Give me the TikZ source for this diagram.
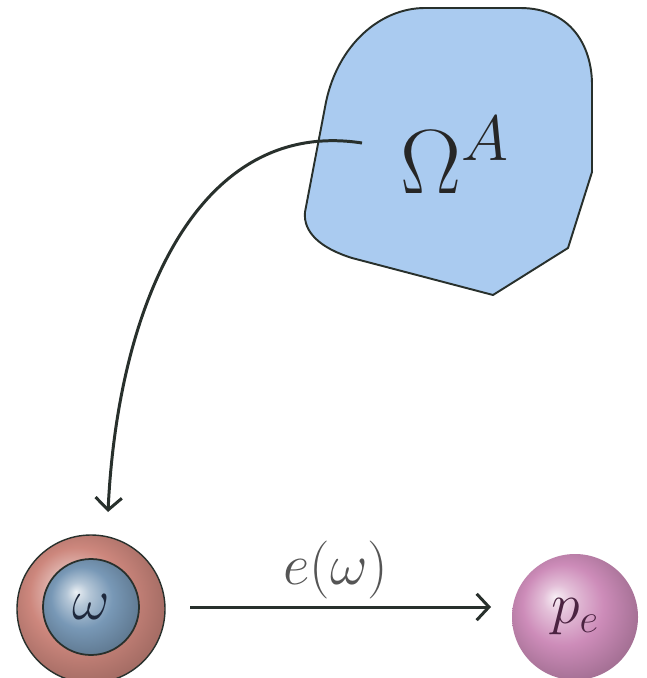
\documentclass[tikz,border=0pt]{standalone}
\usepackage{fix-cm}
\usetikzlibrary{arrows.meta}
\definecolor{blobfill}{RGB}{170,203,240}
\definecolor{linec}{RGB}{40,48,44}
\definecolor{ringc}{RGB}{205,135,125}
\definecolor{innerc}{RGB}{120,152,182}
\definecolor{pec}{RGB}{205,140,185}
\definecolor{labc}{RGB}{85,85,85}
\definecolor{wc}{RGB}{30,40,60}
\definecolor{pc}{RGB}{75,35,65}
\colorlet{myballc}{gray}
\pgfdeclareradialshading[myballc]{myball}{\pgfpoint{-8bp}{8bp}}{%
  color(0bp)=(myballc!15!white); color(6bp)=(myballc!55!white);
  color(16bp)=(myballc); color(28bp)=(myballc!80!black); color(40bp)=(myballc!55!black)}
\tikzset{
  conn/.style={draw=linec, line width=1.7pt, -{Straight Barb[length=7pt,width=15pt,line width=1.7pt]}},
  bigtext/.style={font=\fontsize{52}{60}\selectfont, text=black!85},
  midtext/.style={font=\fontsize{33}{40}\selectfont},
  sphere/.style={circle, inner sep=0pt, shading=myball, draw=linec, line width=0.8pt},
}
\begin{document}
\begin{tikzpicture}[x=0.02cm,y=-0.02cm]
\useasboundingbox (0,0) rectangle (646,678);
% blob
\draw[fill=blobfill, draw=linec, line width=1.1pt]
  (305,212) -- (326,102) .. controls (338,45) and (380,8) .. (425,8)
  -- (520,8) .. controls (570,8) and (592,45) .. (592,85)
  -- (592,172) -- (568,248) -- (493,295) -- (352,258)
  .. controls (320,248) and (303,232) .. (305,212) -- cycle;
\node[bigtext] (omega) at (455,155) {$\Omega^A$};
\coordinate (start) at (362,143);
% spheres
\colorlet{myballc}{ringc}
\node[sphere, minimum size=148*0.02cm] (ring) at (91,609) {};
\colorlet{myballc}{innerc}
\node[sphere, minimum size=96*0.02cm, line width=1pt] (w) at (91,607) {};
\node[midtext, text=wc] at (w.center) {$\omega$};
\colorlet{myballc}{pec}
\node[sphere, minimum size=126*0.02cm, draw=none] (pe) at (575,617) {};
\node[midtext, text=pc] at (pe.center) {$p_e$};
\coordinate (wtop) at (108,512);
\coordinate (wright) at (190,607);
\coordinate (peleft) at (491,607);
% connectors
\draw[conn] (start) .. controls (200,118) and (118,300) .. (wtop);
\draw[conn] (wright) -- (peleft);
\node[midtext, text=labc] (lab) at (336,570) {$e(\omega)$};
\end{tikzpicture}
\end{document}
